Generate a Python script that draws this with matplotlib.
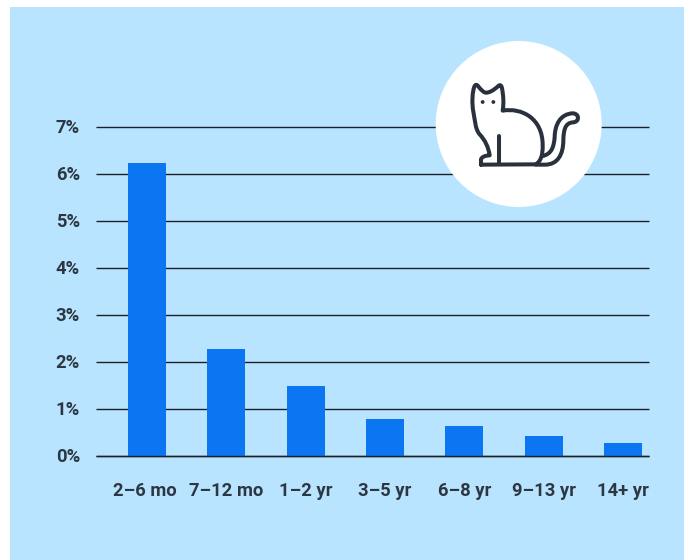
import matplotlib
matplotlib.use("Agg")
import matplotlib.pyplot as plt
from matplotlib.patches import Circle, PathPatch, Rectangle
from matplotlib.path import Path
from matplotlib.transforms import ScaledTranslation

ages = ["2–6 mo", "7–12 mo", "1–2 yr", "3–5 yr", "6–8 yr", "9–13 yr", "14+ yr"]
percent = [6.23, 2.27, 1.50, 0.78, 0.63, 0.42, 0.27]
y_ticks = [0, 1, 2, 3, 4, 5, 6, 7]

W, H = 688, 560
PANEL = "#b9e4ff"
BAR = "#0c76f2"
TEXT = "#2c3742"
LINE = "#29323c"

plt.rcParams["font.family"] = ["Roboto", "DejaVu Sans"]
plt.rcParams["lines.solid_capstyle"] = "butt"

fig = plt.figure(figsize=(W / 100, H / 100), dpi=100, facecolor="white")

# background panel
bg = fig.add_axes([0, 0, 1, 1], zorder=0)
bg.set_xlim(0, W)
bg.set_ylim(H, 0)
bg.axis("off")
bg.add_patch(Rectangle((10, 7), 674, 553, fc=PANEL, ec="none"))

# bars
ax = fig.add_axes([96 / W, 1 - 456 / H, 553 / W, 329 / H], zorder=1)
ax.patch.set_alpha(0)
x = list(range(len(ages)))
ax.bar(x, percent, width=0.48, color=BAR, zorder=3)
ax.set_xlim(-0.643, 6.328)
ax.set_ylim(0, 7)
ax.set_yticks(y_ticks)
ax.set_yticklabels([f"{v}%" for v in y_ticks])
ax.set_xticks(x)
ax.set_xticklabels(ages)
ax.grid(axis="y", color="#1a2026", linewidth=1.0, zorder=1, clip_on=False)
ax.axhline(0, color="#1a2026", linewidth=1.0, zorder=4, clip_on=False)
ax.set_axisbelow(True)
for s in ax.spines.values():
    s.set_visible(False)
ax.tick_params(axis="both", length=0, labelcolor=TEXT, labelsize=13.2)
ax.tick_params(axis="y", pad=11.5)
ax.tick_params(axis="x", pad=18.5)
up = ScaledTranslation(0, 1 / 100, fig.dpi_scale_trans)
for t in ax.get_xticklabels() + ax.get_yticklabels():
    t.set_fontweight("bold")
for t in ax.get_yticklabels():
    t.set_transform(t.get_transform() + up)
# first label sits a little left of its bar in the original
first = ax.get_xticklabels()[0]
first.set_transform(first.get_transform() + ScaledTranslation(-2 / 100, 0, fig.dpi_scale_trans))

# cat badge on top of the gridlines
top = fig.add_axes([0, 0, 1, 1], zorder=2)
top.set_xlim(0, W)
top.set_ylim(H, 0)
top.axis("off")
top.patch.set_alpha(0)
top.add_patch(Circle((518.7, 124), 83, fc="white", ec="none"))


def pts(seq):
    return [(420 + a / 3, 30 + b / 3) for a, b in seq]


def curve(start, *segs):
    verts = [start]
    codes = [Path.MOVETO]
    for seg in segs:
        verts += seg
        codes += [Path.LINETO] if len(seg) == 1 else [Path.CURVE4] * 3
    return Path(pts(verts), codes)


body = curve(
    (183, 404),
    [(183, 388)],
    [(186, 380), (195, 377), (209, 376)],
    [(205, 350), (195, 330), (178, 312)],
    [(165, 295), (165, 270), (160, 245)],
    [(155, 220), (157, 185), (163, 170)],
    [(166, 163), (170, 163), (174, 168)],
    [(185, 182), (192, 188), (198, 188)],
    [(208, 188), (220, 182), (236, 167)],
    [(241, 163), (245, 168), (246, 175)],
    [(250, 195), (252, 220), (248, 242)],
    [(305, 232), (368, 265), (368, 345)],
    [(369, 375), (362, 395), (347, 403)],
    [(183, 404)],
)
tail = curve(
    (368, 378),
    [(395, 372), (402, 350), (404, 320)],
    [(405, 285), (420, 252), (458, 250)],
    [(478, 250), (480, 275), (460, 277)],
    [(435, 278), (431, 300), (430, 330)],
    [(430, 375), (412, 404), (375, 404)],
    [(347, 404)],
)
leg = curve((236, 318), [(236, 402)])
for p in (body, tail, leg):
    top.add_patch(PathPatch(p, fc="none", ec=LINE, lw=2.9, capstyle="round", joinstyle="round"))
for c in pts([(188, 216), (220, 216)]):
    top.add_patch(Circle(c, 1.9, fc=LINE, ec="none"))

fig.savefig("out.png", dpi=100)
